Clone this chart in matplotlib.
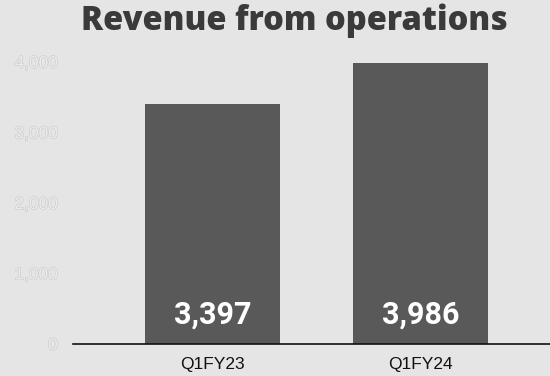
import matplotlib.pyplot as plt
import matplotlib.patheffects as pe
from matplotlib.ticker import FuncFormatter

quarters = ['Q1FY23', 'Q1FY24']
revenue = [3397, 3986]
yticks = [0, 1000, 2000, 3000, 4000]

bg = '#e5e5e5'
fig = plt.figure(figsize=(5.5, 3.76), dpi=100, facecolor=bg)
ax = fig.add_axes([73 / 550, 32 / 376, 477 / 550, 312 / 376], facecolor=bg)

x = range(len(quarters))
bars = ax.bar(x, revenue, width=0.65, color='#595959', zorder=2)

for bar, val in zip(bars, revenue):
    ax.text(bar.get_x() + bar.get_width() / 2, 420, f'{val:,}',
            ha='center', va='center', color='white', fontsize=22,
            fontweight='bold', family='Roboto')

ax.set_xlim(-0.671, 1.623)
ax.set_ylim(0, 4425)
ax.set_xticks(list(x))
ax.set_xticklabels(quarters, fontsize=12.5, family='Liberation Sans', color='#111111')
ax.set_yticks(yticks)
ax.yaxis.set_major_formatter(FuncFormatter(lambda v, p: f'{v:,.0f}'))
ax.tick_params(axis='y', length=0, pad=11, labelsize=12.5, labelcolor='#ececec')
ax.tick_params(axis='x', length=0, pad=9)
for lbl in ax.get_yticklabels():
    lbl.set_family('Liberation Sans')
    lbl.set_path_effects([pe.Stroke(linewidth=0.8, foreground='#c8c8c8'), pe.Normal()])

for side in ['top', 'right', 'left']:
    ax.spines[side].set_visible(False)
ax.spines['bottom'].set_color('#111111')
ax.spines['bottom'].set_linewidth(1.2)

fig.text(0.535, 0.945, 'Revenue from operations', ha='center', va='center',
         fontsize=23.5, fontweight='black', color='#3a3a3a', family='Open Sans')

fig.savefig('out.png', dpi=100, facecolor=bg)
